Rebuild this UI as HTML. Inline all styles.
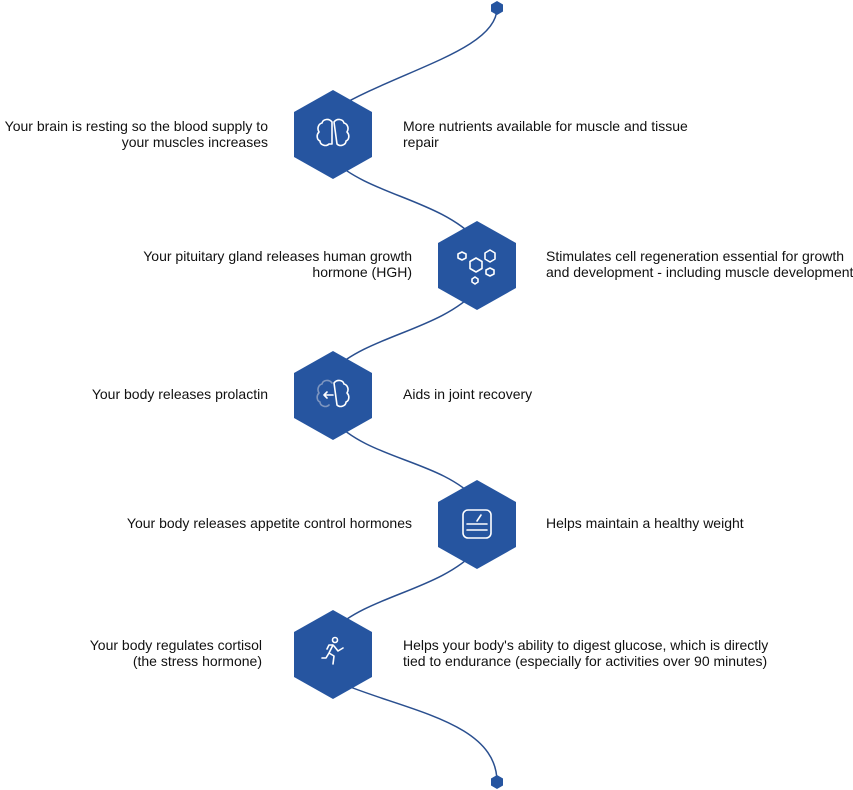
<!DOCTYPE html>
<html><head><meta charset="utf-8"><style>
html,body{margin:0;padding:0;background:#fff;}
body{width:853px;height:790px;position:relative;overflow:hidden;font-family:"Liberation Sans",sans-serif;font-size:14px;color:#111;line-height:16px;}
.t{position:absolute;white-space:nowrap;}
.r{text-align:right;}
svg{position:absolute;left:0;top:0;}
</style></head><body>
<svg width="853" height="790" viewBox="0 0 853 790">
<g fill="none" stroke="#2a4f8f" stroke-width="1.5">
<path d="M497,8 C497,50 400,70 333,110"/>
<path d="M333,160 C370,195 440,200 477,240"/>
<path d="M477,290 C440,330 370,335 333,370"/>
<path d="M333,420 C370,460 440,460 477,500"/>
<path d="M477,550 C440,590 370,595 333,630"/>
<path d="M333,680 C400,710 497,720 497,782"/>
</g>
<g fill="#2655a0">
<polygon points="497,1 503,4.5 503,11.5 497,15 491,11.5 491,4.5"/>
<polygon points="497,775 503,778.5 503,785.5 497,789 491,785.5 491,778.5"/>
<polygon points="333,90 372,112 372,157 333,179 294,157 294,112"/>
<polygon points="477,221 516,243 516,288 477,310 438,288 438,243"/>
<polygon points="333,351 372,373 372,418 333,440 294,418 294,373"/>
<polygon points="477,480 516,502 516,547 477,569 438,547 438,502"/>
<polygon points="333,610 372,632 372,677 333,699 294,677 294,632"/>
</g>
<g fill="none" stroke="#fff" stroke-width="1.6" stroke-linecap="round" stroke-linejoin="round">
<path d="M332,122 c-3,-4 -9,-3 -10,1 c-4,1 -5,6 -3,9 c-3,3 -2,8 1,9 c0,4 6,6 9,3 l3,0 Z"/>
<path d="M334,122 c3,-4 9,-3 10,1 c4,1 5,6 3,9 c3,3 2,8 -1,9 c0,4 -6,6 -9,3 Z"/>
<polygon points="462,252 466,254 466,258 462,260 458,258 458,254"/>
<polygon points="490,250 495,253 495,259 490,262 485,259 485,253"/>
<polygon points="476,258 482,261.5 482,268.5 476,272 470,268.5 470,261.5"/>
<polygon points="490,268 494,270 494,274 490,276 486,274 486,270"/>
<polygon points="475,277 478,279 478,282 475,284 472,282 472,279"/>
<path d="M334,383 c3,-4 9,-3 10,1 c4,1 5,6 3,9 c3,3 2,8 -1,9 c0,4 -6,6 -9,3 Z"/>
<path d="M332,383 c-3,-4 -9,-3 -10,1 c-4,1 -5,6 -3,9 c-3,3 -2,8 1,9 c0,4 6,6 9,3" stroke="#7d95bf"/>
<path d="M333,395 h-9 m3,-3 l-3,3 l3,3"/>
<rect x="463" y="510" width="28" height="28" rx="5"/>
<path d="M467,524 h20 M467,530 h20 M477,521 l4,-6"/>
<circle cx="335" cy="640" r="2.5"/>
<path d="M333,645 l-4,8 l5,3 l-1,8 M333,645 l-4,0 l-2,4 M334,646 l4,5 l5,-3 M329,653 l-3,5 h-4"/>
</g>
</svg>
<div class="t r" style="right:585px;top:118px;">Your brain is resting so the blood supply to<br>your muscles increases</div>
<div class="t" style="left:403px;top:118px;">More nutrients available for muscle and tissue<br>repair</div>
<div class="t r" style="right:441px;top:248px;">Your pituitary gland releases human growth<br>hormone (HGH)</div>
<div class="t" style="left:546px;top:248px;">Stimulates cell regeneration essential for growth<br>and development - including muscle development</div>
<div class="t r" style="right:585px;top:386px;">Your body releases prolactin</div>
<div class="t" style="left:403px;top:386px;">Aids in joint recovery</div>
<div class="t r" style="right:441px;top:515px;">Your body releases appetite control hormones</div>
<div class="t" style="left:546px;top:515px;">Helps maintain a healthy weight</div>
<div class="t r" style="right:591px;top:637px;">Your body regulates cortisol<br>(the stress hormone)</div>
<div class="t" style="left:403px;top:637px;">Helps your body's ability to digest glucose, which is directly<br>tied to endurance (especially for activities over 90 minutes)</div>
</body></html>
